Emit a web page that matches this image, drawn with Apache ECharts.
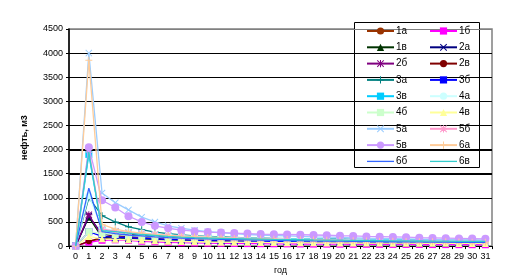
<!DOCTYPE html>
<html><head><meta charset="utf-8">
<script src="https://cdn.jsdelivr.net/npm/echarts@6/dist/echarts.min.js"></script>
<style>html,body{margin:0;padding:0;background:#fff}#c{width:521px;height:280px}</style>
</head><body><div id="c"></div>
<script>
const years = Array.from({length:32},(_, i)=>String(i));
const yTicks = [0,500,1000,1500,2000,2500,3000,3500,4000,4500];
const names = ['1а','1б','1в','2а','2б','2в','3а','3б','3в','4а','4б','4в','5а','5б','5в','6а','6б','6в'];
const s1a = [0,100,150,180,200,190,170,150,140,130,120,110,105,100,95,90,88,85,82,80,78,75,72,70,68,66,64,62,60,58,56,55];
const s1b = [0,80,120,130,120,100,90,80,70,65,60,58,55,52,50,48,46,44,42,40,39,38,37,36,35,34,33,32,31,30,29,28];
const s1v = [0,600,180,170,160,150,140,130,120,110,105,100,95,92,90,88,85,82,80,78,76,74,72,70,68,66,64,62,60,58,56,55];
const s2a = [0,620,250,220,200,180,165,150,140,130,125,120,115,110,105,100,98,95,92,90,88,86,84,82,80,78,76,74,72,70,68,66];
const s2b = [0,650,200,190,180,170,160,150,140,130,125,120,115,110,105,100,98,95,92,90,88,86,84,82,80,78,76,74,72,70,68,66];
const s2v = [0,100,180,230,250,220,200,180,165,150,140,130,125,120,115,110,105,100,98,95,92,90,88,85,82,80,78,76,74,72,70,68];
const s3a = [0,1000,630,500,400,340,290,260,230,210,200,190,180,170,165,160,155,150,148,145,142,140,138,135,132,130,128,125,122,120,118,115];
const s3b = [0,300,200,180,170,160,150,140,130,120,115,110,105,100,98,95,92,90,88,86,84,82,80,78,76,74,72,70,68,66,64,62];
const s3v = [0,1900,330,300,270,250,230,210,195,185,175,170,165,160,155,150,148,145,142,140,138,135,132,130,128,125,122,120,118,115,112,110];
const s4a = [0,1050,360,320,290,270,250,230,215,200,190,180,172,165,160,155,150,146,142,138,135,132,128,125,122,120,118,115,112,110,108,106];
const s4b = [0,300,260,240,220,200,185,170,160,150,145,140,135,130,126,122,118,115,112,110,108,106,104,102,100,98,96,94,92,90,88,86];
const s4v = [0,200,150,140,130,120,110,100,95,90,85,82,80,78,76,74,72,70,68,66,65,64,63,62,61,60,59,58,57,56,55,54];
const s5a = [0,4000,1100,900,750,600,500,420,370,330,300,280,260,240,230,220,210,200,190,185,180,172,165,160,155,150,145,140,135,130,126,122];
const s5b = [0,2000,350,310,280,260,240,220,205,190,180,172,165,158,152,146,140,136,132,128,124,120,117,114,111,108,105,102,100,98,96,94];
const s5v = [0,2050,950,800,620,500,420,370,330,310,290,280,270,260,250,245,240,235,230,225,215,210,200,195,190,185,175,170,165,160,155,150];
const s6a = [0,3850,450,350,300,270,240,220,200,190,180,170,160,150,145,140,135,130,125,120,115,110,105,100,98,95,92,90,88,85,82,80];
const s6b = [0,1200,300,260,230,210,190,175,165,155,148,142,136,130,125,120,116,112,108,105,102,99,96,93,90,88,86,84,82,80,78,76];
const s6v = [0,1950,320,300,270,240,220,200,185,175,168,162,156,150,145,140,136,132,128,125,122,119,116,113,110,108,106,104,102,100,98,96];
const seriesData = [s1a,s1b,s1v,s2a,s2b,s2v,s3a,s3b,s3v,s4a,s4b,s4v,s5a,s5b,s5v,s6a,s6b,s6v];

const colors = ['#993300','#FF00FF','#003300','#000080','#800080','#800000','#008080','#0000FF','#00CCFF','#CCFFFF','#CCFFCC','#FFFF99','#99CCFF','#FF99CC','#CC99FF','#FFCC99','#3366FF','#33CCCC'];
const X = 'path://M0,1L1,0L5,4L9,0L10,1L6,5L10,9L9,10L5,6L1,10L0,9L4,5Z';
const PLUS = 'path://M4.3,0H5.7V4.3H10V5.7H5.7V10H4.3V5.7H0V4.3H4.3Z';
const STAR = 'path://M4.3,0H5.7V4.3H10V5.7H5.7V10H4.3V5.7H0V4.3H4.3Z M1,0L5,4L9,0L10,1L6,5L10,9L9,10L5,6L1,10L0,9L4,5L0,1Z';
const DASH = 'path://M0,4H10V6H0Z';
const LINEICON = 'path://M0,0H27V1.3H0Z';
const symbols = ['circle','rect','triangle',X,STAR,'circle',PLUS,DASH,DASH,'circle','rect','triangle',X,STAR,'circle',PLUS,'none','none'];
const symSizes = [7,7,7,7,7,6,7,7,7,7,7,7,7,7,8,7,0,0];
const F = 'Liberation Sans, Arial, sans-serif';

const series = names.map((n,i)=>({
  name:n, type:'line', data:seriesData[i], color:colors[i],
  symbol:symbols[i], symbolSize:symSizes[i], showSymbol:symbols[i]!=='none',
  lineStyle:{width:1.3, color:colors[i]}, itemStyle:{color:colors[i]},
  animation:false, z:2+i
}));
series.push({type:'line', data:[], silent:true, animation:false,
  markLine:{silent:true, symbol:'none', label:{show:false}, lineStyle:{color:'#000', width:2, type:'solid'},
    data:[{yAxis:1500},{yAxis:2000}]}});

const legendItem = (n)=>{
  const i = names.indexOf(n);
  return symbols[i]==='none' ? {name:n, icon:LINEICON, itemStyle:{color:colors[i]}} : {name:n};
};
const leftNames = names.filter((_,i)=>i%2===0).map(legendItem);
const rightNames = names.filter((_,i)=>i%2===1).map(legendItem);
const legendCommon = {orient:'vertical', top:26, itemWidth:27, itemHeight:9, itemGap:6.3, symbolKeepAspect:true,
  textStyle:{fontFamily:F, fontSize:10, color:'#000', padding:[0,0,0,-3]}, padding:0, selectedMode:false};

const chart = echarts.init(document.getElementById('c'), null, {renderer:'canvas'});
chart.setOption({
  backgroundColor:'#fff',
  animation:false,
  grid:{left:69, right:29, top:29, bottom:30, show:true, borderColor:'#808080', borderWidth:1.5, backgroundColor:'transparent'},
  xAxis:{type:'category', data:years, boundaryGap:true,
    name:'год', nameLocation:'middle', nameGap:19, nameTextStyle:{fontFamily:F, fontSize:9, color:'#000'},
    axisLine:{lineStyle:{color:'#000', width:1}}, axisTick:{show:true, length:3, lineStyle:{color:'#000'}},
    axisLabel:{fontFamily:F, fontSize:9, color:'#000', margin:6, interval:0}},
  yAxis:{type:'value', min:0, max:4500, interval:500,
    name:'нефть, м3', nameLocation:'middle', nameGap:40, nameRotate:90, nameTextStyle:{fontFamily:F, fontSize:9, color:'#000', fontWeight:'bold'},
    axisLine:{show:true, lineStyle:{color:'#000', width:1.5}}, axisTick:{show:true, length:3, lineStyle:{color:'#000'}},
    axisLabel:{fontFamily:F, fontSize:9, color:'#000', margin:6, formatter:(v)=>String(v)},
    splitLine:{lineStyle:{color:['#000','#000','#000','#000','#000','#000','#000','#000','#000','#808080'], width:1}}},
  legend:[
    Object.assign({left:366, data:leftNames}, legendCommon),
    Object.assign({left:429, data:rightNames}, legendCommon)
  ],
  graphic:[{type:'rect', shape:{x:354.5, y:22.5, width:125, height:145}, style:{fill:'#fff', stroke:'#000', lineWidth:1}, z:0, zlevel:0}],
  series:series
});
</script></body></html>
